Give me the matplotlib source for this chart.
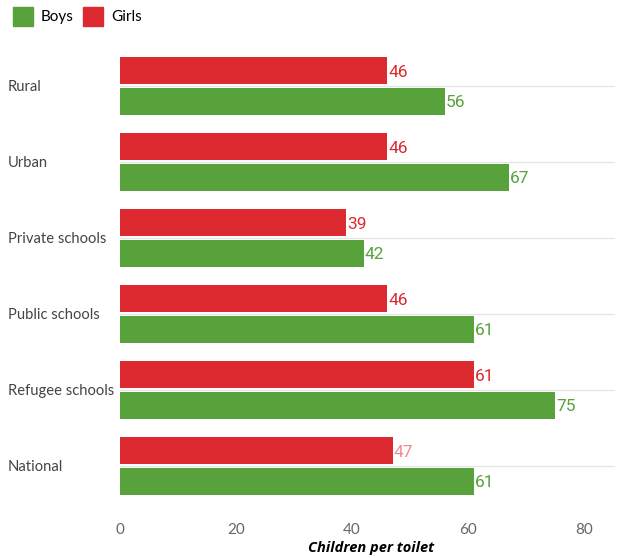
import matplotlib.pyplot as plt
import numpy as np
from matplotlib.patches import Patch

categories = ["Rural", "Urban", "Private schools", "Public schools", "Refugee schools", "National"]
girls = [46, 46, 39, 46, 61, 47]
boys = [56, 67, 42, 61, 75, 61]

GREEN = "#58a23c"
RED = "#dd2a30"

fig = plt.figure(figsize=(6.17, 5.58), dpi=100)
ax = fig.add_axes([120 / 617, 54 / 558, 495 / 617, 456 / 558])

y = np.arange(len(categories))
h = 0.36
ax.barh(y - 0.2, girls, height=h, color=RED, zorder=2)
ax.barh(y + 0.2, boys, height=h, color=GREEN, zorder=2)

for yi in y:
    ax.axhline(yi, color="#e6e6e6", lw=1, zorder=1)

for yi, v in zip(y, girls):
    col = "#f28a93" if categories[yi] == "National" else RED
    ax.text(v + 0.2, yi - 0.18, str(v), va="center", ha="left", color=col,
            fontsize=12.5, family="Roboto")
for yi, v in zip(y, boys):
    ax.text(v + 0.2, yi + 0.22, str(v), va="center", ha="left", color=GREEN,
            fontsize=12.5, family="Roboto")

ax.set_xlim(0, 85.3)
ax.set_ylim(5.5, -0.5)
ax.set_yticks([])
ax.set_xticks([0, 20, 40, 60, 80])
ax.tick_params(axis="x", length=0, labelsize=11, labelcolor="#666666", pad=14)
for lbl in ax.get_xticklabels():
    lbl.set_family("Lato")
for s in ax.spines.values():
    s.set_visible(False)

for yi, c in zip(y, categories):
    fig.text(8 / 617, 1 - (87 + 76 * yi) / 558, c, ha="left", va="center",
             fontsize=10.6, color="#444444", family="Lato")

fig.text(371 / 617, 1 - 548 / 558, "Children per toilet", ha="center",
         va="center", fontsize=10.5, fontweight="bold", style="italic", family="Open Sans")

handles = [Patch(color=GREEN, label="Boys"), Patch(color=RED, label="Girls")]
fig.legend(handles=handles, loc="upper left", bbox_to_anchor=(-0.002, 1.012), ncol=2, frameon=False,
           handlelength=1.35, handleheight=1.5, handletextpad=0.5, columnspacing=0.6,
           prop={"family": "Lato", "size": 11})

fig.savefig("out.png", dpi=100)
